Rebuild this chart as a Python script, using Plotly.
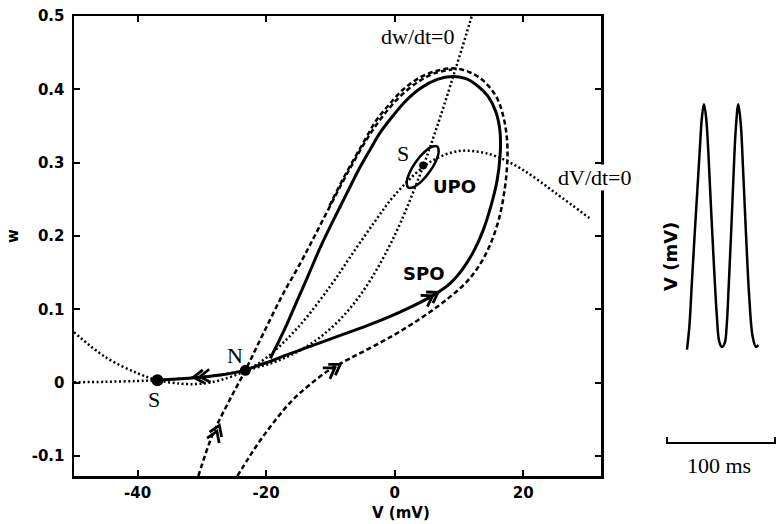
import numpy as np
import plotly.graph_objects as go

# ---------------- data ----------------
# w-nullcline (dw/dt = 0)
wnull_V = [-49.9, -45, -40, -36.9, -33, -30, -27, -23.2, -20, -17, -14, -11, -8, -5, -2, 1, 4.4, 7, 9.5, 11.6, 12.0]
wnull_w = [0.0008, 0.0014, 0.0025, 0.0036, 0.0056, 0.008, 0.0112, 0.0172, 0.0245, 0.0344, 0.0479, 0.0664,
           0.0911, 0.124, 0.1668, 0.2202, 0.2945, 0.3601, 0.4287, 0.4885, 0.5]
# V-nullcline (dV/dt = 0)
vnull_V = [-49.9, -45, -40, -36.9, -33, -30, -27, -23.2, -20, -15, -10, -6.5, -3, 0, 4.4, 7, 10, 13, 16, 20, 25, 30.3]
vnull_w = [0.069, 0.035, 0.013, 0.0037, -0.0014, -0.0011, 0.004, 0.0165, 0.034, 0.076, 0.132, 0.177, 0.221,
           0.256, 0.294, 0.308, 0.316, 0.315, 0.308, 0.290, 0.259, 0.2245]
# stable manifold of N (dashed)
manA_V = [-30.55, -28.37, -25.88, -23.24, -20.44, -17.33, -14.69, -12.82, -10.65, -8.47, -6.61, -4.74,
          -3.03, -1.01, 1.01, 3.50, 6.14, 8.94]
manA_w = [-0.127, -0.0715, -0.0266, 0.0170, 0.0674, 0.1219, 0.1628, 0.1941, 0.2309, 0.2677, 0.2977, 0.3263,
          0.3495, 0.3726, 0.3917, 0.4094, 0.4217, 0.4271]
# outer trajectory (dashed)
trajB_V = [-24.48, -22.77, -20.91, -18.58, -15.93, -13.14, -10.03, -6.92, -3.03, 0.85, 4.74, 8.32, 11.27,
           13.45, 15.00, 16.24, 17.02, 17.49, 17.49, 16.87, 15.78, 13.91, 11.74, 9.40, 6.76, 3.96, 1.32,
           -0.85, -2.88, -4.59, -6.45, -8.32, -10.34]
trajB_w = [-0.127, -0.1029, -0.0783, -0.0511, -0.0238, -0.0020, 0.0184, 0.0334, 0.0511, 0.0702, 0.0920,
           0.1151, 0.1383, 0.1642, 0.1914, 0.2241, 0.2582, 0.2963, 0.3304, 0.3644, 0.3903, 0.4108, 0.4230,
           0.4285, 0.4258, 0.4162, 0.3999, 0.3794, 0.3576, 0.3317, 0.3031, 0.2732, 0.2377]
# stable periodic orbit (with unstable manifold leaving N)
spo_V = [-23.24, -21.22, -19.35, -17.02, -13.14, -8.47, -4.59, -0.70, 2.72, 5.98, 8.63, 10.65, 12.36, 13.76,
         15.00, 15.93, 16.40, 16.40, 15.78, 14.53, 12.82, 10.96, 8.94, 6.61, 3.96, 1.63, -0.23, -2.25, -3.81,
         -5.67, -7.38, -9.56, -11.58, -13.45, -15.16, -16.71, -18.11, -19.04, -19.35]
spo_w = [0.0170, 0.0238, 0.0293, 0.0375, 0.0497, 0.0647, 0.0770, 0.0906, 0.1042, 0.1192, 0.1356, 0.1560,
         0.1805, 0.2078, 0.2418, 0.2759, 0.3099, 0.3413, 0.3685, 0.3903, 0.4053, 0.4149, 0.4176, 0.4135,
         0.4012, 0.3835, 0.3644, 0.3413, 0.3181, 0.2895, 0.2595, 0.2214, 0.1846, 0.1465, 0.1124, 0.0811,
         0.0552, 0.0388, 0.0334]
# unstable manifold N -> S
sn_V = [-36.92, -33.34, -30.24, -26.82, -23.24]
sn_w = [0.0034, 0.0054, 0.0075, 0.0109, 0.0170]
# unstable periodic orbit
upo_V = [6.61, 6.84, 6.42, 5.43, 4.17, 2.94, 2.10, 1.87, 2.29, 3.28, 4.54, 5.77, 6.61]
upo_w = [0.3222, 0.3151, 0.3025, 0.2876, 0.2745, 0.2668, 0.2663, 0.2734, 0.2861, 0.3010, 0.3140, 0.3218, 0.3222]
# equilibria S, N, S
eq_V = [-36.92, -23.24, 4.43]
eq_w = [0.0034, 0.0170, 0.2963]
# voltage trace (right panel)
trace_t = [0.0, 2.2, 4.3, 6.8, 9.6, 12.0, 13.9, 15.7, 17.6, 19.8, 22.2, 25.0, 27.5, 29.9, 32.4, 34.9, 36.7,
           38.6, 40.7, 42.9, 45.1, 47.5, 49.7, 52.1, 54.6, 57.4, 60.8, 63.9, 66.0]
trace_mV = [-20.4, -16.8, -10.6, -3.3, 4.5, 11.2, 15.9, 17.8, 15.9, 10.2, 1.8, -7.5, -14.8, -19.2, -20.0,
            -19.4, -16.8, -10.6, -2.8, 6.0, 13.8, 17.8, 14.9, 7.0, -2.3, -11.6, -18.4, -20.0, -19.7]
scale_ms = 100
x_ticks = [-40, -20, 0, 20]
x_ticktext = ["-40", "-20", "0", "20"]
y_ticks = [-0.1, 0, 0.1, 0.2, 0.3, 0.4, 0.5]
y_ticktext = ["-0.1", "0", "0.1", "0.2", "0.3", "0.4", "0.5"]

# ---------------- layout geometry ----------------
W, H = 776, 524
PL, PR, PT, PB = 74, 601, 16, 476
XR = [-49.9, 32.1]
YR = [-0.127, 0.5]
KX = (PR - PL) / (XR[1] - XR[0])
KY = (PB - PT) / (YR[1] - YR[0])


def to_px(v, w):
    return np.array([(v - XR[0]) * KX, (YR[1] - w) * KY])


def to_data(p):
    return XR[0] + p[0] / KX, YR[1] - p[1] / KY


def chevrons(cv, cw, tipV, tipw, sign, n=2, L=12.0, ang=33, gap=6.5):
    pts = np.array([to_px(v, w) for v, w in zip(cv, cw)])
    tip = to_px(tipV, tipw)
    i = int(np.argmin(np.linalg.norm(pts - tip, axis=1)))
    i0, i1 = max(i - 1, 0), min(i + 1, len(pts) - 1)
    t = pts[i1] - pts[i0]
    t = t / np.linalg.norm(t) * sign
    xs, ys = [], []
    for k in range(n):
        p = tip - k * gap * t
        seg = []
        for a in (ang, -ang):
            r = np.radians(a)
            b = -t
            rb = np.array([b[0] * np.cos(r) - b[1] * np.sin(r), b[0] * np.sin(r) + b[1] * np.cos(r)])
            seg.append(p + L * rb)
        for q in (seg[0], p, seg[1]):
            dv, dw = to_data(q)
            xs.append(dv)
            ys.append(dw)
        xs.append(None)
        ys.append(None)
    return xs, ys


fig = go.Figure()
BLK = "black"

fig.add_trace(go.Scatter(x=wnull_V, y=wnull_w, mode="lines", line=dict(color=BLK, width=2.5, dash="2px,2.5px", shape="spline")))
fig.add_trace(go.Scatter(x=vnull_V, y=vnull_w, mode="lines", line=dict(color=BLK, width=2.5, dash="2px,2.5px", shape="spline")))
fig.add_trace(go.Scatter(x=manA_V, y=manA_w, mode="lines", line=dict(color=BLK, width=2.5, dash="5px,3px", shape="spline")))
fig.add_trace(go.Scatter(x=trajB_V, y=trajB_w, mode="lines", line=dict(color=BLK, width=2.5, dash="5px,3px", shape="spline")))
fig.add_trace(go.Scatter(x=spo_V, y=spo_w, mode="lines", line=dict(color=BLK, width=3, shape="spline", smoothing=0.8)))
fig.add_trace(go.Scatter(x=sn_V, y=sn_w, mode="lines", line=dict(color=BLK, width=3, shape="spline")))
fig.add_trace(go.Scatter(x=upo_V, y=upo_w, mode="lines", line=dict(color=BLK, width=2.5, shape="spline")))
fig.add_trace(go.Scatter(x=eq_V, y=eq_w, mode="markers", opacity=1,
                         marker=dict(color=BLK, size=[12, 11, 8], opacity=1, line=dict(width=0))))

arrow_specs = [
    (sn_V, sn_w, -31.32, 0.0075, -1),
    (manA_V, manA_w, -27.28, -0.0579, 1),
    (trajB_V, trajB_w, -8.47, 0.0252, 1),
    (spo_V, spo_w, 6.76, 0.1233, 1),
]
for cv, cw, tv, tw, sg in arrow_specs:
    ax_, ay_ = chevrons(cv, cw, tv, tw, sg)
    fig.add_trace(go.Scatter(x=ax_, y=ay_, mode="lines", line=dict(color=BLK, width=2.8)))

# right panel: voltage trace + scale bar
fig.add_trace(go.Scatter(x=trace_t, y=trace_mV, mode="lines", xaxis="x2", yaxis="y2",
                         line=dict(color=BLK, width=2.5, shape="spline")))
bar_t0 = -18.5
bar_y = -34.95
fig.add_trace(go.Scatter(x=[bar_t0, bar_t0, bar_t0 + scale_ms, bar_t0 + scale_ms],
                         y=[bar_y + 0.93, bar_y, bar_y, bar_y + 0.93], mode="lines",
                         xaxis="x2", yaxis="y2", line=dict(color=BLK, width=2)))

tickfont = dict(family="DejaVu Sans", size=15, color=BLK, weight="bold")
serif = dict(family="Liberation Serif", size=22, color=BLK)
boldsans = dict(family="DejaVu Sans", size=17, color=BLK, weight="bold")

ydom = [(H - PB) / H, (H - PT) / H]
fig.update_layout(
    width=W, height=H, margin=dict(l=0, r=0, t=0, b=0, autoexpand=False),
    paper_bgcolor="white", plot_bgcolor="white", showlegend=False, hovermode=False,
    xaxis=dict(domain=[PL / W, PR / W], range=XR, showline=True, linewidth=2.5, linecolor=BLK,
               mirror="ticks", ticks="inside", ticklen=6, tickwidth=2, tickcolor=BLK,
               tickvals=x_ticks, ticktext=x_ticktext, tickfont=tickfont, showgrid=False,
               zeroline=False, ticklabelstandoff=1, automargin=False),
    yaxis=dict(domain=ydom, range=YR, showline=True, linewidth=2.5, linecolor=BLK,
               mirror="ticks", ticks="inside", ticklen=6, tickwidth=2, tickcolor=BLK,
               tickvals=y_ticks, ticktext=y_ticktext, tickfont=tickfont, showgrid=False,
               zeroline=False, ticklabelstandoff=4, automargin=False),
    xaxis2=dict(domain=[660 / W, 1.0], range=[-25, 82.4], visible=False, anchor="y2"),
    yaxis2=dict(domain=ydom, range=[-40.09, 31.55], visible=False, anchor="x2"),
)

ann = [
    dict(text="V (mV)", x=401 / W, y=(H - 513) / H, font=boldsans | dict(size=15)),
    dict(text="w", x=13 / W, y=(H - 236) / H, font=boldsans | dict(size=15), textangle=-90),
    dict(text="dw/dt=0", x=418 / W, y=(H - 36) / H, font=serif),
    dict(text="dV/dt=0", x=595 / W, y=(H - 178) / H, font=serif, bgcolor="white"),
    dict(text="S", x=153.5 / W, y=(H - 399.5) / H, font=serif),
    dict(text="N", x=235 / W, y=(H - 355) / H, font=serif),
    dict(text="S", x=403 / W, y=(H - 153.5) / H, font=serif),
    dict(text="UPO", x=454 / W, y=(H - 187) / H, font=boldsans | dict(size=18)),
    dict(text="SPO", x=424 / W, y=(H - 273.5) / H, font=boldsans | dict(size=18)),
    dict(text="V (mV)", x=670 / W, y=(H - 257) / H, font=boldsans | dict(size=18), textangle=-90),
    dict(text="100 ms", x=719 / W, y=(H - 465) / H, font=serif),
]
for a in ann:
    fig.add_annotation(xref="paper", yref="paper", showarrow=False, xanchor="center", yanchor="middle",
                       borderpad=0, **a)

fig.write_html("out.html", config={"displayModeBar": False, "staticPlot": True},
               post_script="document.documentElement.style.margin='0';document.body.style.margin='0';"
                           "document.body.style.overflow='hidden';")
